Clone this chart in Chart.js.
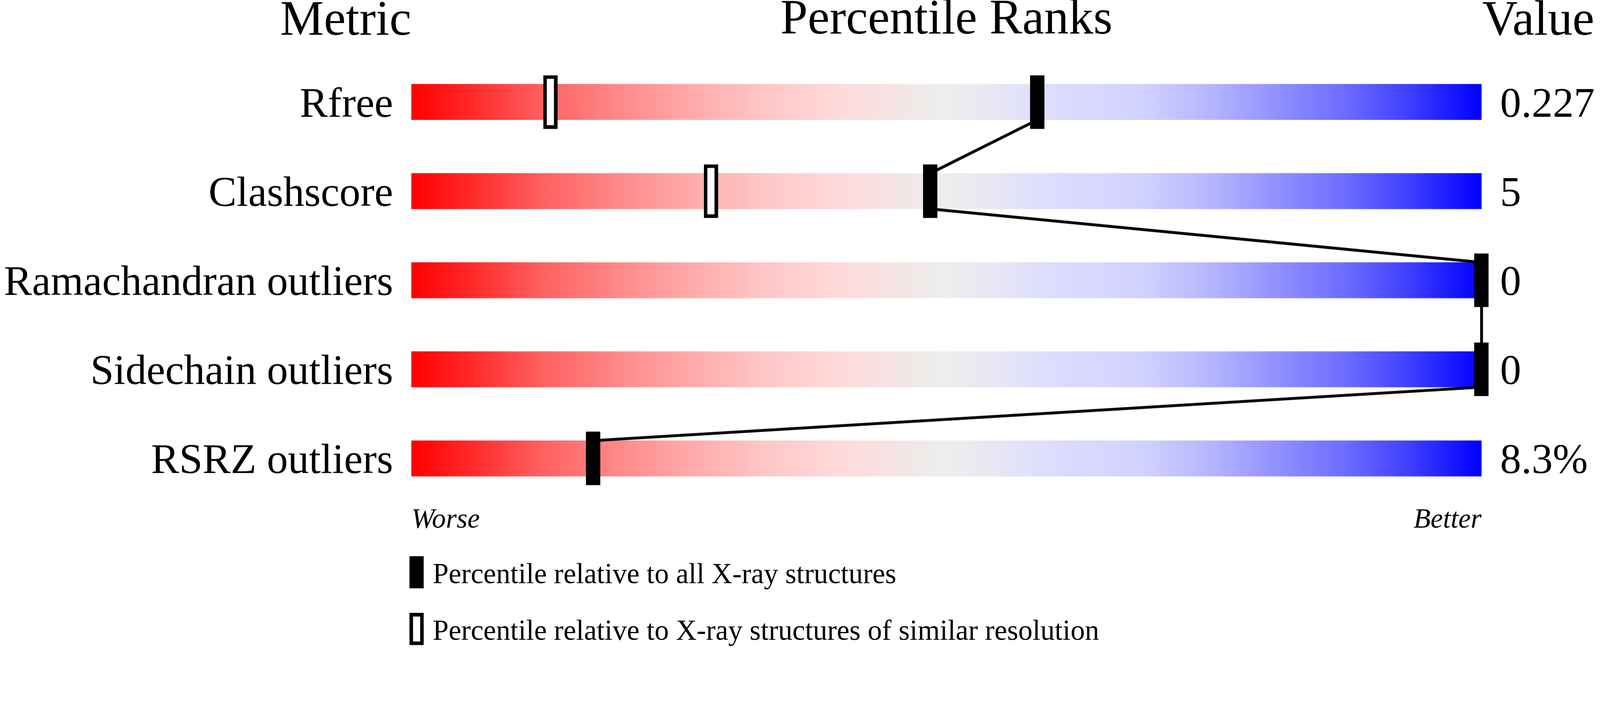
<!DOCTYPE html>
<html>
<head>
<meta charset="utf-8">
<style>
  html, body { margin: 0; padding: 0; background: #fff; overflow: hidden; }
  #wrap { position: relative; }
</style>
<script src="https://cdn.jsdelivr.net/npm/chart.js"></script>
</head>
<body>
<div id="wrap"><canvas id="c"></canvas></div>
<script>
// ---------------- data ----------------
const metrics = ['Rfree', 'Clashscore', 'Ramachandran outliers', 'Sidechain outliers', 'RSRZ outliers'];
const valueLabels = ['0.227', '5', '0', '0', '8.3%'];
const percentileAll = [58.5, 48.5, 100, 100, 17];
const percentileSimilar = [13, 28, null, null, null];
const trackRange = [0, 100];
const endLabels = ['Worse', 'Better'];
const headers = ['Metric', 'Percentile Ranks', 'Value'];
const legendTexts = ['Percentile relative to all X-ray structures',
                     'Percentile relative to X-ray structures of similar resolution'];

// ---------------- style / layout (in reference pixels) ----------------
const REF_W = 4485, REF_H = 1824;
const U = Math.min(window.innerWidth / REF_W, window.innerHeight / REF_H);
const R = v => v * U;
const FONT = "'Liberation Serif', 'Times New Roman', serif";
const PLOT_LEFT = 1153;
const RIGHT_COLUMN = 332;
const TOP_BAND = 161;
const BOTTOM_BAND = 85;
const BAR_PX = 100;
const ROW_PX = 250;
const barHalfRows = (BAR_PX / 2) / ROW_PX;
const LEGEND_PAD = 79;
const LEGEND_BOX = 1094;
const LEGEND_SHIFT = 542;

const wrap = document.getElementById('wrap');
wrap.style.width = R(REF_W) + 'px';
wrap.style.height = R(REF_H) + 'px';

const gradientStops = [
  [0.00, 'rgb(255,0,0)'],
  [0.06, 'rgb(255,45,45)'],
  [0.12, 'rgb(255,95,95)'],
  [0.19, 'rgb(255,135,135)'],
  [0.26, 'rgb(255,170,170)'],
  [0.33, 'rgb(255,198,198)'],
  [0.40, 'rgb(255,218,218)'],
  [0.46, 'rgb(243,230,230)'],
  [0.50, 'rgb(238,238,238)'],
  [0.55, 'rgb(230,230,245)'],
  [0.60, 'rgb(220,220,255)'],
  [0.68, 'rgb(210,210,255)'],
  [0.74, 'rgb(185,185,255)'],
  [0.80, 'rgb(150,150,255)'],
  [0.87, 'rgb(110,110,255)'],
  [0.93, 'rgb(65,65,255)'],
  [1.00, 'rgb(0,0,255)']
];

// marker images (sizes in reference px)
function makeMarker(w, h, border, hollow, offX, offYBottom) {
  offX = offX || 0; offYBottom = offYBottom || 0;
  const cw = Math.round(R(w + 2 * offX)), ch = Math.round(R(h + offYBottom));
  const c = document.createElement('canvas');
  c.width = cw; c.height = ch;
  const g = c.getContext('2d');
  const x0 = R(2 * offX), bw = R(w), bh = R(h), b = R(border);
  g.fillStyle = '#000';
  g.fillRect(x0, 0, bw, bh);
  if (hollow) {
    g.fillStyle = '#fff';
    g.fillRect(x0 + b, b, bw - 2 * b, bh - 2 * b);
  }
  return c;
}
const filledMarker = makeMarker(40, 150, 0, false);
const hollowMarker = makeMarker(40, 150, 10, true);
const filledLegend = makeMarker(40, 90, 0, false, LEGEND_SHIFT, 20);
const hollowLegend = makeMarker(40, 90, 10, true, LEGEND_SHIFT, 20);

// connector polyline: bottom edge of one track to top edge of the next
const connectorPoints = [];
percentileAll.forEach((p, i) => {
  if (i > 0) connectorPoints.push({ x: p, y: i - barHalfRows });
  if (i < percentileAll.length - 1) connectorPoints.push({ x: p, y: i + barHalfRows });
});

let cachedGradient = null;
function trackGradient(ctx) {
  const chart = ctx.chart;
  const area = chart.chartArea;
  if (!area) return 'rgb(238,238,238)';
  if (!cachedGradient) {
    const g = chart.ctx.createLinearGradient(area.left, 0, area.right, 0);
    gradientStops.forEach(([o, c]) => g.addColorStop(o, c));
    cachedGradient = g;
  }
  return cachedGradient;
}

const headerPlugin = {
  id: 'headers',
  afterDraw(chart) {
    const { ctx, chartArea } = chart;
    ctx.save();
    ctx.font = R(138) + 'px ' + FONT;
    ctx.fillStyle = '#000';
    ctx.textBaseline = 'alphabetic';
    ctx.textAlign = 'right';
    ctx.fillText(headers[0], chartArea.left, R(97));
    ctx.textAlign = 'left';
    ctx.fillText(headers[2], chartArea.right + R(2), R(97));
    ctx.restore();
  }
};

Chart.defaults.font.family = FONT;
Chart.defaults.color = '#000';

new Chart(document.getElementById('c'), {
  type: 'bar',
  data: {
    labels: metrics,
    datasets: [
      {
        type: 'scatter',
        label: 'similar',
        data: percentileSimilar.map((p, i) => ({ x: p, y: i })),
        xAxisID: 'x', yAxisID: 'y2',
        pointStyle: hollowMarker,
        pointRadius: 5,
        clip: false,
        order: 0
      },
      {
        type: 'scatter',
        label: 'all',
        data: percentileAll.map((p, i) => ({ x: p, y: i })),
        xAxisID: 'x', yAxisID: 'y2',
        pointStyle: filledMarker,
        pointRadius: 5,
        clip: false,
        order: 0
      },
      {
        type: 'line',
        label: 'connector',
        data: connectorPoints,
        xAxisID: 'x', yAxisID: 'y2',
        borderColor: '#000',
        borderWidth: R(8),
        pointRadius: 0,
        tension: 0,
        fill: false,
        clip: false,
        order: 1
      },
      {
        type: 'bar',
        label: 'track',
        indexAxis: 'y',
        data: metrics.map(() => trackRange),
        xAxisID: 'x', yAxisID: 'y',
        backgroundColor: trackGradient,
        borderWidth: 0,
        barThickness: R(BAR_PX),
        order: 2
      }
    ]
  },
  options: {
    responsive: true,
    maintainAspectRatio: false,
    animation: false,
    events: [],
    layout: { padding: 0 },
    scales: {
      x: {
        type: 'linear', position: 'top', min: 0, max: 100, offset: false,
        grid: { display: false, drawTicks: false },
        border: { display: false },
        ticks: { display: false },
        title: { display: true, text: headers[1], color: '#000',
                 font: { size: R(138), lineHeight: 0.84 }, padding: 0 },
        afterFit: s => { s.height = R(TOP_BAND); }
      },
      xb: {
        type: 'linear', position: 'bottom', min: 0, max: 100, offset: false,
        grid: { display: false, drawTicks: false },
        border: { display: false },
        ticks: {
          font: { size: R(78), style: 'italic' }, padding: R(2), align: 'inner',
          autoSkip: false, maxRotation: 0, minRotation: 0,
          callback: (v, i) => endLabels[i]
        },
        afterBuildTicks: s => { s.ticks = [{ value: 0 }, { value: 100 }]; },
        afterFit: s => { s.height = R(BOTTOM_BAND); }
      },
      y: {
        type: 'category', position: 'left', offset: true,
        grid: { display: false, drawTicks: false },
        border: { display: false },
        ticks: { font: { size: R(118) }, padding: R(51), labelOffset: R(10), autoSkip: false },
        afterFit: s => { s.width = R(PLOT_LEFT); }
      },
      yR: {
        type: 'category', position: 'right', offset: true, labels: valueLabels,
        grid: { display: false, drawTicks: false },
        border: { display: false },
        ticks: { font: { size: R(118) }, padding: R(52), labelOffset: R(10), autoSkip: false },
        afterFit: s => { s.width = R(RIGHT_COLUMN); }
      },
      y2: {
        type: 'linear', display: false, reverse: true,
        min: -0.5, max: metrics.length - 0.5
      }
    },
    plugins: {
      tooltip: { enabled: false },
      title: { display: false },
      legend: {
        display: true,
        position: 'bottom',
        align: 'start',
        fullSize: true,
        labels: {
          usePointStyle: true,
          pointStyleWidth: R(LEGEND_BOX),
          padding: R(LEGEND_PAD),
          color: '#000',
          font: { size: R(80) },
          generateLabels: () => [
            { text: legendTexts[0], pointStyle: filledLegend, fillStyle: '#000', strokeStyle: '#000', lineWidth: 0, hidden: false, datasetIndex: 1, fontColor: '#000' },
            { text: legendTexts[1], pointStyle: hollowLegend, fillStyle: '#fff', strokeStyle: '#000', lineWidth: 0, hidden: false, datasetIndex: 0, fontColor: '#000' }
          ]
        }
      }
    }
  },
  plugins: [headerPlugin]
});
</script>
</body>
</html>
